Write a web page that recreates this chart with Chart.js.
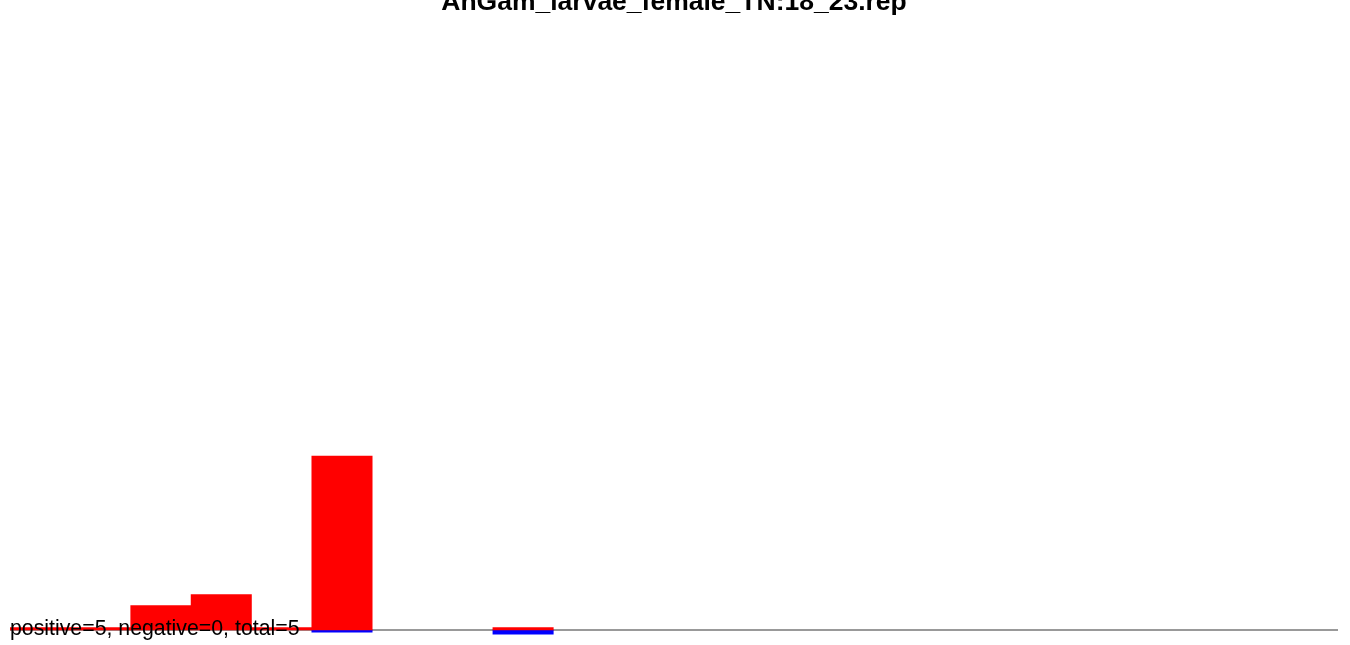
<!DOCTYPE html>
<html>
<head>
<meta charset="utf-8">
<script src="https://cdn.jsdelivr.net/npm/chart.js@4/dist/chart.umd.min.js"></script>
<style>
  html, body { margin: 0; padding: 0; background: #fff; }
  #wrap { position: relative; width: 1350px; height: 645px; overflow: hidden; }
  #chart { position: absolute; left: 0; top: -20px; }
</style>
</head>
<body>
<div id="wrap"><canvas id="chart" width="1350" height="665"></canvas></div>
<script>
const chartTitle = 'AnGam_larvae_female_TN:18_23.rep';
const summary = 'positive=5, negative=0, total=5';
const bins = Array.from({ length: 22 }, (_, i) => 'bin' + (i + 1));
// empty bins are null so no zero-height sliver is drawn
const positive = [2.5, 2.5, 24.5, 35.5, 2.5, 174, null, null, 2.5, null, null, null, null, null, null, null, null, null, null, null, null, null];
const negative = [null, null, null, null, null, -2.2, null, null, -4.2, null, null, null, null, null, null, null, null, null, null, null, null, null];
const yMin = -10;
const yMax = 590;

const baseline = {
  id: 'baseline',
  beforeDatasetsDraw(chart) {
    const { ctx, chartArea, scales } = chart;
    const y = scales.y.getPixelForValue(0);
    ctx.save();
    ctx.strokeStyle = '#999';
    ctx.lineWidth = 2;
    ctx.beginPath();
    ctx.moveTo(chartArea.left, y);
    ctx.lineTo(chartArea.right, y);
    ctx.stroke();
    ctx.restore();
  }
};

const summaryText = {
  id: 'summaryText',
  afterDraw(chart) {
    const { ctx, chartArea, scales } = chart;
    const y = scales.y.getPixelForValue(0);
    ctx.save();
    ctx.font = '21.3px "Liberation Sans", Arial, sans-serif';
    ctx.fillStyle = '#000';
    ctx.textAlign = 'left';
    ctx.textBaseline = 'alphabetic';
    ctx.fillText(summary, chartArea.left, y + 4.5);
    ctx.restore();
  }
};

new Chart(document.getElementById('chart'), {
  type: 'bar',
  data: {
    labels: bins,
    datasets: [
      { label: 'positive', data: positive, backgroundColor: '#ff0000', borderWidth: 0 },
      { label: 'negative', data: negative, backgroundColor: '#0000ff', borderWidth: 0 }
    ]
  },
  options: {
    responsive: false,
    animation: false,
    layout: { padding: { left: 10, right: 12, top: 0, bottom: 5 } },
    datasets: { bar: { barPercentage: 1, categoryPercentage: 1 } },
    scales: {
      x: { stacked: true, display: false },
      y: { stacked: true, display: false, min: yMin, max: yMax }
    },
    plugins: {
      legend: { display: false },
      tooltip: { enabled: false },
      title: {
        display: true,
        text: chartTitle,
        color: '#000',
        font: { family: '"Liberation Sans", Arial, sans-serif', size: 26.5, weight: 'bold' },
        padding: { top: 7, bottom: 21.2 }
      }
    }
  },
  plugins: [baseline, summaryText]
});
</script>
</body>
</html>
